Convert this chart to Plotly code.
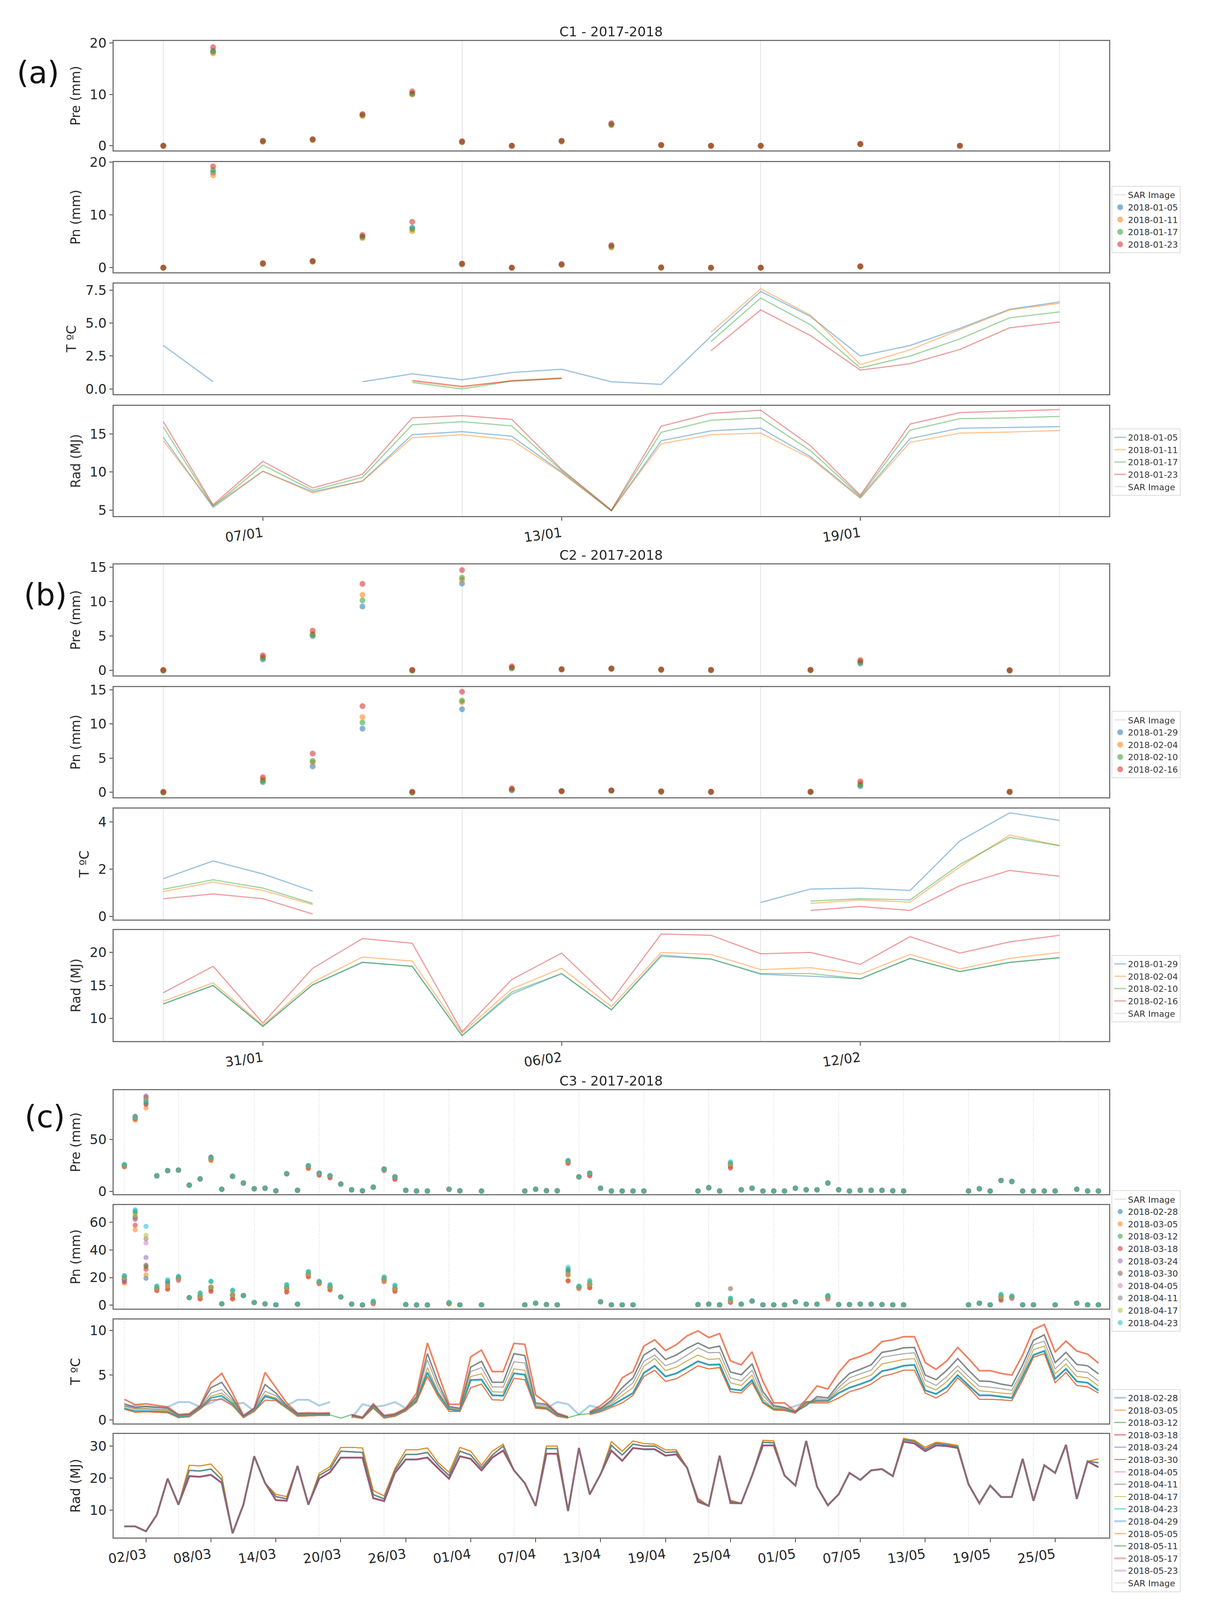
import plotly.graph_objects as go
import pandas as pd

# ------------------------------------------------------------------ data
TAB = ['#1f77b4', '#ff7f0e', '#2ca02c', '#d62728', '#9467bd',
       '#8c564b', '#e377c2', '#7f7f7f', '#bcbd22', '#17becf']
N = None

# ---------- panel (a)  C1
a_dates = pd.date_range('2018-01-05', periods=19)
a_names = ['2018-01-05', '2018-01-11', '2018-01-17', '2018-01-23']
a_sar = ['2018-01-05', '2018-01-11', '2018-01-17', '2018-01-23']
a_pre = {
    '2018-01-05': [0, 18.5, 0.8, 1.2, 6.0, 10.2, 0.8, 0, 0.9, 4.2, 0.1, 0, 0, N, 0.3, N, 0, N, N],
    '2018-01-11': [0, 18.0, 0.8, 1.1, 5.8, 10.0, 0.7, 0, 0.8, 4.0, 0.1, 0, 0, N, 0.3, N, 0, N, N],
    '2018-01-17': [0, 18.3, 0.9, 1.2, 6.0, 10.1, 0.7, 0, 0.9, 4.1, 0.1, 0, 0, N, 0.3, N, 0, N, N],
    '2018-01-23': [0, 19.2, 1.0, 1.3, 6.2, 10.6, 0.9, 0, 1.0, 4.4, 0.2, 0, 0, N, 0.4, N, 0, N, N],
}
a_pn = {
    '2018-01-05': [0, 18.0, 0.7, 1.2, 5.8, 7.6, 0.7, 0, 0.6, 4.0, 0, 0, 0, N, 0.2, N, N, N, N],
    '2018-01-11': [0, 17.5, 0.7, 1.1, 5.6, 6.9, 0.6, 0, 0.5, 3.8, 0, 0, 0, N, 0.2, N, N, N, N],
    '2018-01-17': [0, 18.5, 0.8, 1.2, 5.9, 7.3, 0.7, 0, 0.6, 4.1, 0, 0, 0, N, 0.2, N, N, N, N],
    '2018-01-23': [0, 19.2, 0.9, 1.3, 6.2, 8.7, 0.8, 0, 0.7, 4.3, 0.1, 0, 0, N, 0.3, N, N, N, N],
}
a_t = {
    '2018-01-05': [3.3, 0.55, N, N, 0.55, 1.15, 0.7, 1.25, 1.5, 0.55, 0.35, 4.0, 7.4, 5.5, 2.5, 3.3, 4.6, 6.05, 6.6],
    '2018-01-11': [N, N, N, N, N, 0.6, 0.15, 0.65, 0.85, N, N, 4.3, 7.6, 5.6, 1.85, 2.97, 4.5, 6.0, 6.5],
    '2018-01-17': [N, N, N, N, N, 0.5, 0.0, 0.6, 0.8, N, N, 3.6, 6.9, 4.87, 1.6, 2.5, 3.8, 5.4, 5.85],
    '2018-01-23': [N, N, N, N, N, 0.65, 0.2, 0.6, 0.8, N, N, 2.9, 6.0, 4.05, 1.43, 1.92, 3.0, 4.64, 5.08],
}
a_rad = {
    '2018-01-05': [14.55, 5.35, 10.1, 7.4, 8.8, 14.9, 15.3, 14.7, 10.0, 4.9, 14.1, 15.4, 15.75, 12.0, 6.65, 14.4, 15.75, 15.85, 15.95],
    '2018-01-11': [14.1, 5.6, 10.1, 7.25, 8.8, 14.5, 14.9, 14.2, 9.9, 4.9, 13.7, 14.9, 15.1, 11.8, 6.55, 13.9, 15.1, 15.25, 15.45],
    '2018-01-17': [15.9, 5.5, 10.9, 7.6, 9.3, 16.2, 16.6, 16.05, 10.2, 4.95, 15.2, 16.8, 17.1, 12.8, 6.8, 15.5, 17.0, 17.1, 17.3],
    '2018-01-23': [16.6, 5.7, 11.4, 7.9, 9.7, 17.1, 17.4, 16.9, 10.35, 5.0, 16.0, 17.7, 18.1, 13.45, 6.95, 16.3, 17.8, 18.0, 18.2],
}

# ---------- panel (b)  C2
b_dates = pd.date_range('2018-01-29', periods=19)
b_names = ['2018-01-29', '2018-02-04', '2018-02-10', '2018-02-16']
b_sar = ['2018-01-29', '2018-02-04', '2018-02-10', '2018-02-16']
b_pre = {
    '2018-01-29': [0, N, 1.6, 5.0, 9.3, 0, 12.65, 0.3, 0.15, 0.25, 0.1, 0.05, N, 0.05, 1.0, N, N, 0, N],
    '2018-02-04': [0, N, 2.0, 5.3, 11.0, 0, 13.2, 0.4, 0.15, 0.25, 0.1, 0.05, N, 0.05, 1.3, N, N, 0, N],
    '2018-02-10': [0, N, 1.8, 5.2, 10.2, 0, 13.5, 0.4, 0.15, 0.25, 0.1, 0.05, N, 0.05, 1.2, N, N, 0, N],
    '2018-02-16': [0.1, N, 2.2, 5.8, 12.6, 0.1, 14.6, 0.6, 0.2, 0.3, 0.15, 0.1, N, 0.1, 1.5, N, N, 0.05, N],
}
b_pn = {
    '2018-01-29': [0, N, 1.5, 3.8, 9.3, 0, 12.15, 0.3, 0.15, 0.25, 0.1, 0.05, N, 0.05, 0.9, N, N, 0.05, N],
    '2018-02-04': [0, N, 1.9, 4.4, 11.0, 0, 13.2, 0.4, 0.15, 0.25, 0.1, 0.05, N, 0.05, 1.3, N, N, 0.05, N],
    '2018-02-10': [0, N, 1.7, 4.6, 10.2, 0, 13.4, 0.4, 0.15, 0.25, 0.1, 0.05, N, 0.05, 1.1, N, N, 0.05, N],
    '2018-02-16': [0.1, N, 2.2, 5.67, 12.6, 0.1, 14.7, 0.6, 0.2, 0.3, 0.15, 0.1, N, 0.1, 1.6, N, N, 0.1, N],
}
b_t = {
    '2018-01-29': [1.6, 2.35, 1.8, 1.07, N, N, N, N, N, N, N, N, 0.59, 1.16, 1.2, 1.1, 3.2, 4.39, 4.07],
    '2018-02-04': [1.05, 1.45, 1.1, 0.5, N, N, N, N, N, N, N, N, N, 0.55, 0.7, 0.6, 2.1, 3.45, 3.0],
    '2018-02-10': [1.15, 1.55, 1.2, 0.55, N, N, N, N, N, N, N, N, N, 0.65, 0.75, 0.7, 2.2, 3.35, 3.0],
    '2018-02-16': [0.75, 0.95, 0.75, 0.1, N, N, N, N, N, N, N, N, N, 0.25, 0.42, 0.25, 1.3, 1.95, 1.7],
}
b_rad = {
    '2018-01-29': [12.2, 15.0, 8.8, 15.1, 18.5, 17.9, 7.4, 13.7, 16.8, 11.3, 19.6, 19.0, 16.7, 16.4, 16.0, 19.1, 17.1, 18.5, 19.2],
    '2018-02-04': [12.6, 15.4, 9.0, 15.5, 19.3, 18.7, 7.8, 14.5, 17.6, 11.8, 20.0, 19.7, 17.4, 17.7, 16.7, 19.7, 17.5, 19.1, 20.0],
    '2018-02-10': [12.2, 15.0, 8.8, 15.1, 18.5, 17.9, 7.4, 14.0, 16.8, 11.3, 19.4, 19.0, 16.8, 16.8, 16.0, 19.1, 17.1, 18.5, 19.2],
    '2018-02-16': [13.9, 17.9, 9.3, 17.6, 22.1, 21.4, 8.0, 15.9, 19.9, 12.7, 22.8, 22.6, 19.8, 20.0, 18.2, 22.4, 19.9, 21.6, 22.6],
}

# ---------- panel (c)  C3
c_dates = pd.date_range('2018-02-28', periods=91)
c_names = ['2018-02-28', '2018-03-05', '2018-03-12', '2018-03-18', '2018-03-24',
           '2018-03-30', '2018-04-05', '2018-04-11', '2018-04-17', '2018-04-23',
           '2018-04-29', '2018-05-05', '2018-05-11', '2018-05-17', '2018-05-23']
c_sar = c_names + ['2018-05-29']

c_pre_base = [25, 71, 88, 15, 20, 20.5, 6, 12, 31.5, 2,
              14.5, 8, 2.5, 3, 0.5, 17, 1, 24, 17.5, 15,
              7, 1.5, 0.5, 4, 21.5, 14, 1, 0.3, 0.3, N,
              2, 0.5, N, 0.3, N, N, N, 0.3, 2, 0.6,
              0.5, 29, 14, 17.5, 3, 0.3, 0.3, 0.3, 0.3, N,
              N, N, N, 0.3, 3.5, 0.3, 26, 1.5, 3, 0.3,
              0.3, 0.3, 3, 1.5, 1.5, 8, 1.5, 0.3, 1, 1,
              1, 0.5, 0.3, N, N, N, N, N, 0.3, 2.5,
              0.3, 10.5, 9.5, 0.3, 0.3, 0.3, 0.3, N, 2, 0.3, 0.3]
c_pre_diff = {
    '2018-02-28': {1: 70.5, 2: 87, 41: 29},
    '2018-03-05': {0: 23.5, 1: 68.5, 2: 80.5, 8: 29.5, 17: 22, 18: 16, 19: 13.5, 25: 12, 41: 27.5, 43: 15.5, 56: 23.5},
    '2018-03-12': {0: 25.5, 2: 85, 8: 32, 17: 25, 41: 29.5, 56: 27.5},
    '2018-03-18': {0: 24, 1: 70, 2: 84, 8: 30.5, 17: 22.5, 18: 15.5, 19: 13, 24: 20, 25: 11.5, 41: 27, 43: 15, 56: 22.5},
    '2018-03-24': {1: 72.5, 2: 92, 8: 33},
    '2018-03-30': {1: 72, 2: 91, 8: 33, 56: 25},
    '2018-04-05': {2: 90},
    '2018-04-11': {2: 89, 56: 26.5},
    '2018-04-17': {2: 88},
    '2018-04-23': {0: 26, 1: 71.5, 2: 86, 8: 32.5, 17: 25, 41: 30, 56: 28.5},
}
c_pn_base = [19.5, 64, 40, 12, 14, 19.5, 5.5, 6.5, 13, 1,
             7.5, 7, 2, 1, 0.3, 12.5, 0.8, 22.5, 16.5, 13,
             6, 0.8, 0.2, 2, 18.5, 12, 0.5, 0.2, 0.2, N,
             1.5, 0.3, N, 0.3, N, N, N, 0.3, 1.5, 0.5,
             0.3, 22, 13, 15, 2.5, 0.3, 0.3, 0.3, N, N,
             N, N, N, 0.5, 0.8, 0.3, 3, 0.8, 3, 0.3,
             0.3, 0.3, 2.5, 0.8, 0.8, 6, 0.5, 0.5, 0.8, 0.8,
             0.5, 0.3, 0.3, N, N, N, N, N, 0.3, 1.5,
             0.3, 6, 6, 0.3, 0.3, N, 0.3, N, 1.5, 0.3, 0.3]
c_pn_diff = {
    '2018-02-28': {0: 20, 1: 68, 2: 19.5, 4: 16, 41: 25},
    '2018-03-05': {0: 16, 1: 54.5, 2: 22, 3: 11, 4: 12, 7: 5, 8: 10.5, 10: 5, 15: 10, 17: 21, 19: 11.5, 25: 10.5, 41: 18, 43: 13, 56: 2.5},
    '2018-03-12': {0: 21, 1: 66.5, 2: 28, 3: 13.5, 4: 17.5, 5: 20.5, 7: 8.5, 8: 17, 10: 10.5, 15: 14.5, 17: 24, 18: 17,
                   19: 14.5, 23: 2.8, 24: 20, 25: 14, 41: 26, 42: 13.5, 43: 17, 56: 5, 65: 7, 81: 7.5},
    '2018-03-18': {0: 17, 1: 57.8, 2: 26, 3: 10.5, 4: 11.5, 5: 18, 7: 4.5, 8: 10, 10: 4.5, 15: 9.5, 17: 20.5, 18: 15.5,
                   19: 11, 23: 1, 24: 17, 25: 10, 30: 1, 41: 17.5, 42: 12, 43: 12.5, 56: 2, 65: 4.5, 81: 3.5, 82: 5},
    '2018-03-24': {0: 18, 1: 62, 2: 34.5},
    '2018-03-30': {0: 18.5, 1: 63, 2: 29, 8: 12, 10: 7, 15: 12, 41: 22, 56: 12, 81: 4.5},
    '2018-04-05': {0: 19, 1: 63.5, 2: 45},
    '2018-04-11': {0: 19, 1: 64, 2: 48, 4: 16.5, 8: 13, 41: 24},
    '2018-04-17': {0: 20, 1: 65, 2: 50.5},
    '2018-04-23': {0: 21.5, 1: 69, 2: 57, 3: 14, 4: 18.5, 5: 21, 7: 9, 8: 17.5, 10: 11, 15: 15, 17: 24.5, 18: 17.5,
                   19: 15, 23: 3, 24: 20.5, 25: 14.5, 30: 2.2, 41: 27.5, 42: 14, 43: 18, 56: 5, 65: 7, 81: 8, 82: 7},
}

# temperature curves of panel (c), from the highest to the lowest line
c_t1 = [2.3, 1.7, 1.8, 1.6, 1.45, 0.6, 0.7, 1.6, 4.15, 5.2,
        3.0, 0.5, 1.3, 5.3, 3.6, 1.9, 0.75, 0.8, 0.75, 0.8,
        N, 0.6, 0.3, 1.8, 0.5, 0.7, 1.3, 3.0, 8.6, 5.15,
        1.75, 1.75, 7.05, 7.8, 5.4, 5.4, 8.55, 8.45, 2.8, 1.9,
        0.75, 0.35, N, 0.9, 1.6, 2.6, 4.7, 5.4, 8.25, 8.95,
        7.75, 8.4, 9.4, 9.95, 9.2, 9.65, 6.6, 6.15, 7.6, 4.3,
        1.9, 1.9, 0.95, 2.3, 3.8, 3.45, 5.3, 6.7, 7.1, 7.6,
        8.75, 8.95, 9.3, 9.3, 6.4, 5.65, 6.6, 8.1, 6.85, 5.5,
        5.5, 5.2, 5.0, 7.25, 10.1, 10.65, 7.6, 8.8, 7.7, 7.35, 6.35]
c_t2 = [1.8, 1.4, 1.5, 1.4, 1.3, 0.55, 0.6, 1.5, 3.6, 4.2,
        2.45, 0.45, 1.3, 3.95, 3.0, 1.6, 0.7, 0.7, 0.7, 0.7,
        N, 0.55, 0.25, 1.7, 0.45, 0.6, 1.2, 2.6, 7.4, 4.15,
        1.5, 1.3, 5.9, 6.55, 4.2, 4.2, 7.4, 7.2, 1.9, 1.75,
        0.7, 0.3, N, 0.85, 1.3, 2.2, 3.6, 4.7, 7.25, 8.0,
        6.75, 7.25, 8.0, 8.6, 8.0, 8.25, 5.35, 5.05, 6.25, 3.15,
        1.6, 1.4, 0.9, 1.6, 2.6, 2.45, 4.0, 5.2, 5.65, 6.15,
        7.55, 7.75, 8.05, 8.1, 5.0, 4.5, 5.55, 6.85, 5.55, 4.35,
        4.3, 4.0, 3.8, 6.15, 8.9, 9.5, 6.4, 7.55, 6.2, 6.05, 5.15]
c_t3 = [1.6, 1.3, 1.3, 1.2, 1.15, 0.5, 0.55, 1.4, 3.0, 3.4,
        2.2, 0.4, 1.2, 3.2, 2.7, 1.5, 0.6, 0.65, 0.65, 0.65,
        N, 0.5, 0.25, 1.6, 0.4, 0.55, 1.15, 2.45, 6.7, 3.6,
        1.4, 1.2, 5.4, 5.85, 3.7, 3.65, 6.5, 6.35, 1.75, 1.6,
        0.65, 0.3, N, 0.8, 1.2, 2.0, 3.15, 4.15, 6.55, 7.25,
        6.05, 6.5, 7.25, 8.05, 7.5, 7.55, 4.7, 4.35, 5.55, 2.75,
        1.45, 1.3, 0.85, 1.75, 2.4, 2.25, 3.6, 4.7, 5.15, 5.55,
        7.0, 7.2, 7.4, 7.5, 4.45, 3.85, 4.85, 6.05, 4.85, 3.75,
        3.65, 3.5, 3.3, 5.55, 8.4, 8.8, 5.7, 6.85, 5.45, 5.3, 4.35]
c_t4 = [1.5, 1.2, 1.2, 1.1, 1.05, 0.45, 0.5, 1.35, 2.65, 3.0,
        2.0, 0.35, 1.1, 2.8, 2.45, 1.4, 0.55, 0.6, 0.6, 0.6,
        N, 0.45, 0.2, 1.5, 0.3, 0.5, 1.1, 2.3, 5.85, 3.15,
        1.3, 1.1, 4.85, 5.15, 3.15, 3.1, 5.7, 5.55, 1.6, 1.45,
        0.6, 0.25, N, 0.75, 1.1, 1.8, 2.75, 3.6, 6.0, 6.85,
        5.5, 5.9, 6.6, 7.25, 6.75, 6.85, 4.15, 3.85, 5.0, 2.3,
        1.3, 1.2, 0.85, 1.9, 2.25, 2.15, 3.3, 4.15, 4.6, 5.0,
        6.25, 6.5, 6.75, 6.85, 3.85, 3.35, 4.3, 5.55, 4.35, 3.25,
        3.15, 3.0, 2.9, 5.2, 7.85, 8.25, 5.15, 6.25, 4.85, 4.7, 3.8]
c_t5 = [1.3, 1.0, 1.0, 0.95, 0.9, 0.35, 0.4, 1.3, 2.45, 2.7,
        1.8, 0.3, 1.0, 2.65, 2.3, 1.35, 0.5, 0.5, 0.55, 0.55,
        N, 0.4, 0.2, 1.4, 0.25, 0.45, 1.05, 2.15, 5.3, 2.9,
        1.2, 1.0, 4.45, 4.5, 2.75, 2.7, 5.2, 5.05, 1.45, 1.3,
        0.5, 0.25, N, 0.7, 1.05, 1.6, 2.3, 3.0, 5.25, 6.05,
        4.85, 5.2, 5.85, 6.55, 6.15, 6.2, 3.45, 3.3, 4.45, 2.0,
        1.2, 1.1, 0.85, 2.0, 2.1, 2.1, 3.0, 3.6, 4.0, 4.45,
        5.45, 5.7, 6.05, 6.15, 3.3, 2.9, 3.65, 5.0, 3.85, 2.75,
        2.75, 2.6, 2.45, 4.85, 7.25, 7.7, 4.6, 5.7, 4.3, 4.15, 3.3]
c_t6 = [1.2, 0.85, 0.9, 0.85, 0.8, 0.25, 0.35, 1.2, 2.2, 2.3,
        1.6, 0.25, 0.95, 2.2, 2.15, 1.3, 0.4, 0.45, 0.5, 0.5,
        N, 0.35, 0.15, 1.3, 0.2, 0.4, 1.0, 2.0, 4.85, 2.6,
        0.95, 0.95, 3.6, 4.0, 2.25, 2.2, 4.65, 4.5, 1.3, 1.2,
        0.4, 0.2, N, 0.6, 0.9, 1.4, 1.9, 2.75, 4.85, 5.55,
        4.3, 4.6, 5.3, 6.05, 5.7, 5.85, 3.15, 3.0, 4.15, 1.9,
        1.1, 1.05, 0.75, 1.9, 1.9, 1.9, 2.45, 3.15, 3.5, 4.0,
        4.85, 5.15, 5.55, 5.55, 3.0, 2.45, 3.15, 4.7, 3.6, 2.3,
        2.3, 2.25, 2.15, 4.45, 7.0, 7.4, 4.15, 5.3, 3.85, 3.7, 3.0]
c_t_blue = [1.5, 1.6, 1.5, 1.4, 1.45, 2.0, 2.0, 1.45, 1.9, 2.45,
            1.8, 1.9, 1.0, 2.6, 2.3, 1.6, 2.25, 2.25, 1.6, 2.0,
            N, 0.2, 1.75, 1.45, 1.6, 2.0, 1.3, 2.15, 5.3, 2.9,
            1.2, 1.0, 4.45, 4.5, 2.75, 2.7, 5.2, 5.05, 1.45, 1.3,
            2.0, 1.75, 0.6, 1.6, 1.3, 1.6, 2.3, 3.0, 5.25, 6.05,
            4.85, 5.2, 5.85, 6.55, 6.15, 6.2, 3.45, 3.3, 4.45, 2.0,
            1.2, 1.2, 1.55, 2.0, 2.1, 2.1, 3.0, 3.6, 4.0, 4.45,
            5.45, 5.7, 6.05, 6.15, 3.3, 2.9, 3.65, 5.0, 3.85, 2.75,
            2.75, 2.6, 2.45, 4.85, 7.25, 7.7, 4.6, 5.7, 4.3, 4.15, 3.3]
c_t_green_diff = {20: 0.2, 21: 0.6, 42: 0.6}

# radiation curves of panel (c): middle line and its upper / lower spread
c_rad_mid = [4.9, 4.9, 3.35, 8.5, 19.8, 11.7, 22.4, 22.2, 22.8, 19.5,
             2.75, 11.7, 26.8, 18.45, 14.2, 13.5, 23.8, 11.7, 20.8, 22.8,
             28.4, 28.2, 28.0, 14.8, 13.5, 22.4, 27.4, 27.4, 28.0, 24.0,
             20.8, 28.4, 27.2, 23.2, 27.2, 30.0, 22.4, 18.45, 11.3, 29.2,
             29.2, 9.7, 29.4, 14.9, 21.2, 30.2, 27.2, 30.6, 30.0, 30.0,
             28.0, 28.2, 23.2, 13.2, 11.3, 27.0, 12.7, 12.1, 20.8, 31.2,
             31.0, 20.8, 17.65, 31.6, 17.3, 11.5, 14.9, 21.6, 19.4, 22.4,
             22.8, 20.6, 32.0, 31.4, 29.0, 30.8, 30.4, 29.8, 18.05, 12.1,
             17.65, 14.1, 14.1, 26.0, 12.9, 24.0, 21.6, 30.4, 13.5, 25.2, 24.8]
c_rad_hi_diff = {6: 24.0, 7: 23.8, 8: 24.4, 9: 20.7, 14: 14.9, 15: 14.2, 18: 21.5, 19: 23.6, 20: 29.6,
                 21: 29.6, 22: 29.4, 23: 16.1, 24: 14.4, 25: 23.0, 26: 28.8, 27: 28.8, 28: 29.4, 29: 24.8,
                 30: 21.8, 31: 29.6, 32: 28.4, 33: 24.0, 34: 28.4, 35: 30.6, 39: 30.0, 40: 30.0, 45: 31.4,
                 46: 28.4, 47: 31.6, 48: 30.8, 49: 30.6, 50: 28.8, 51: 28.8, 53: 13.7, 56: 13.1, 59: 31.8,
                 60: 31.6, 72: 32.4, 73: 31.8, 74: 29.6, 75: 31.2, 76: 30.8, 77: 30.2, 90: 26.0}
c_rad_lo_diff = {6: 20.6, 7: 20.4, 8: 21.0, 9: 18.5, 14: 13.1, 15: 12.9, 18: 19.8, 19: 21.8, 20: 26.4,
                 21: 26.4, 22: 26.4, 23: 13.7, 24: 12.8, 25: 21.6, 26: 25.8, 27: 25.8, 28: 26.4, 29: 23.0,
                 30: 19.8, 31: 26.8, 32: 26.0, 33: 22.4, 34: 26.4, 35: 28.6, 39: 27.6, 40: 27.6, 45: 28.6,
                 46: 25.4, 47: 29.4, 48: 29.0, 49: 29.0, 50: 27.0, 51: 27.4, 53: 12.6, 56: 12.2, 59: 30.2,
                 60: 30.2, 72: 31.4, 73: 30.8, 74: 28.4, 75: 30.2, 76: 30.0, 77: 29.4, 90: 23.4}

# which curve each forecast of panel (c) follows
c_t_map = ['blue', 't1', 'green', 't6', 't6', 't2', 't4', 't3', 't4', 't5', 't5', 't6', 't2', 't1', 't2']
c_rad_map = ['lo', 'hi', 'mid', 'lo', 'mid', 'hi', 'mid', 'mid', 'hi', 'mid', 'lo', 'hi', 'mid', 'lo', 'mid']
c_wide = ['2018-02-28', '2018-04-29', '2018-05-17', '2018-05-23']


def with_diff(base, diff):
    return [diff.get(i, v) for i, v in enumerate(base)]


c_pre = {n: with_diff(c_pre_base, c_pre_diff[n]) for n in c_names[:10]}
c_pn = {n: with_diff(c_pn_base, c_pn_diff[n]) for n in c_names[:10]}
t_curves = {'t1': c_t1, 't2': c_t2, 't3': c_t3, 't4': c_t4, 't5': c_t5, 't6': c_t6,
            'blue': c_t_blue, 'green': with_diff(c_t5, c_t_green_diff)}
r_curves = {'mid': c_rad_mid, 'hi': with_diff(c_rad_mid, c_rad_hi_diff),
            'lo': with_diff(c_rad_mid, c_rad_lo_diff)}
c_t = {n: t_curves[m] for n, m in zip(c_names, c_t_map)}
c_rad = {n: r_curves[m] for n, m in zip(c_names, c_rad_map)}

# ------------------------------------------------------------------ layout geometry
# positions measured on the 3128 x 4218 reference, mapped into the figure
W, H = 3096, 4090
OFF, SY = 16, 4118 / 4218


def FX(x):
    return x - OFF


def FY(y):
    return y * SY - OFF


FONT = 'DejaVu Sans'
XL, XR, LEGX = 284, 2846, 2852
ROWS = [(96, 385), (416, 707), (737, 1029), (1060, 1352),
        (1480, 1773), (1804, 2095), (2125, 2418), (2446, 2739),
        (2870, 3144), (3173, 3447), (3476, 3750), (3778, 4052)]
YTITLES = ['Pre (mm)', 'Pn (mm)', 'T ºC', 'Rad (MJ)']

PANELS = [
    dict(title='C1 - 2017-2018', label='(a)', dates=a_dates, names=a_names, sar=a_sar,
         data=[a_pre, a_pn, a_t, a_rad], xr=['2018-01-04', '2018-01-24'], tick0='2018-01-07',
         yr=[[-0.9, 20.4], [-0.85, 20.0], [-0.38, 8.0], [4.2, 18.7]], dt=[10, 10, 2.5, 5],
         fmt=['d', 'd', '.1f', 'd'], msize=15, griddash='solid',
         title_y=71, label_xy=(90, 180), leg_y=[479, 1120]),
    dict(title='C2 - 2017-2018', label='(b)', dates=b_dates, names=b_names, sar=b_sar,
         data=[b_pre, b_pn, b_t, b_rad], xr=['2018-01-28', '2018-02-17'], tick0='2018-01-31',
         yr=[[-0.73, 15.4], [-0.72, 15.37], [-0.13, 4.57], [6.6, 23.4]], dt=[5, 5, 2, 5],
         fmt=['d', 'd', 'd', 'd'], msize=15, griddash='solid',
         title_y=1455, label_xy=(108, 1560), leg_y=[1867, 2512]),
    dict(title='C3 - 2017-2018', label='(c)', dates=c_dates, names=c_names, sar=c_sar,
         data=[c_pre, c_pn, c_t, c_rad], xr=['2018-02-27', '2018-05-30'], tick0='2018-03-02',
         yr=[[-2.65, 97.4], [-2.5, 72.4], [-0.38, 11.2], [1.4, 33.8]], dt=[50, 20, 5, 10],
         fmt=['d', 'd', 'd', 'd'], msize=13, griddash='dot',
         title_y=2845, label_xy=(107, 2940), leg_y=[3134, 3659]),
]

fig = go.Figure()
layout = dict(width=W, height=H, margin=dict(l=0, r=0, t=0, b=0),
              paper_bgcolor='white', plot_bgcolor='white',
              font=dict(family=FONT, color='#262626'), annotations=[])


def sfx(k):
    return '' if k == 0 else str(k + 1)


def sar_entry(k, leg):
    return go.Scatter(x=[None], y=[None], mode='lines', name='SAR Image',
                      line=dict(color='#d9d9d9', width=2), legend=leg,
                      xaxis='x' + sfx(k), yaxis='y' + sfx(k), hoverinfo='skip')


for p, P in enumerate(PANELS):
    leg_pn = 'legend' if p == 0 else 'legend%d' % (2 * p + 1)
    leg_rad = 'legend%d' % (2 * p + 2)
    for r in range(4):
        k = 4 * p + r
        top, bot = ROWS[k]
        layout['xaxis' + sfx(k)] = dict(
            domain=[FX(XL) / W, FX(XR) / W], range=P['xr'], type='date', anchor='y' + sfx(k),
            showline=True, mirror=True, linecolor='#737373', linewidth=3,
            showgrid=False, zeroline=False,
            tick0=P['tick0'], dtick=6 * 86400000, tickformat='%d/%m',
            showticklabels=(r == 3), ticks='outside' if r == 3 else '',
            ticklen=9, tickwidth=2, tickcolor='#444', tickangle=-8,
            tickfont=dict(size=34, family=FONT, color='#262626'),
            minor=dict(tickmode='array', tickvals=P['sar'], showgrid=True,
                       gridcolor='#e3e3e3', gridwidth=2, griddash=P['griddash'], ticks=''))
        layout['yaxis' + sfx(k)] = dict(
            domain=[1 - FY(bot) / H, 1 - FY(top) / H], range=P['yr'][r], anchor='x' + sfx(k),
            tick0=0, dtick=P['dt'][r], tickformat=P['fmt'][r],
            showline=True, mirror=True, linecolor='#737373', linewidth=3,
            showgrid=False, zeroline=False,
            ticks='outside', ticklen=8, tickwidth=2, tickcolor='#444',
            tickfont=dict(size=34, family=FONT, color='#262626'),
            title=dict(text=YTITLES[r], standoff=14,
                       font=dict(size=33, family=FONT, color='#262626')))

        data = P['data'][r]
        if r == 1:
            fig.add_trace(sar_entry(k, leg_pn))
        for i, name in enumerate(data):
            col = TAB[i % 10]
            common = dict(x=P['dates'], y=data[name], name=name,
                          xaxis='x' + sfx(k), yaxis='y' + sfx(k), connectgaps=False)
            if r < 2:
                fig.add_trace(go.Scatter(mode='markers', opacity=0.55,
                                         marker=dict(color=col, size=P['msize'], line=dict(width=0)),
                                         legend=leg_pn, showlegend=(r == 1), **common))
            else:
                if p < 2:
                    lw, op = 3, 0.45
                else:
                    lw, op = (5, 0.35) if name in c_wide else (2.5, 0.7)
                fig.add_trace(go.Scatter(mode='lines', opacity=op,
                                         line=dict(color=col, width=lw),
                                         legend=leg_rad, showlegend=(r == 3), **common))
        if r == 3:
            fig.add_trace(sar_entry(k, leg_rad))

    for j, ly in enumerate(P['leg_y']):
        layout[leg_pn if j == 0 else leg_rad] = dict(
            x=FX(LEGX) / W, y=1 - FY(ly) / H, xanchor='left', yanchor='top',
            bgcolor='white', bordercolor='#dcdcdc', borderwidth=2,
            font=dict(size=22, family=FONT, color='#333'), tracegroupgap=0)

    layout['annotations'].append(dict(
        text=P['title'], x=FX((XL + XR) / 2) / W, y=1 - FY(P['title_y']) / H,
        xref='paper', yref='paper', showarrow=False, xanchor='center', yanchor='middle',
        font=dict(size=34, family=FONT, color='#262626')))
    lx, lyy = P['label_xy']
    layout['annotations'].append(dict(
        text=P['label'], x=FX(lx) / W, y=1 - FY(lyy) / H, xref='paper', yref='paper',
        showarrow=False, xanchor='center', yanchor='middle',
        font=dict(size=78, family=FONT, color='#111')))

fig.update_layout(**layout)
fig.write_html('out.html')
